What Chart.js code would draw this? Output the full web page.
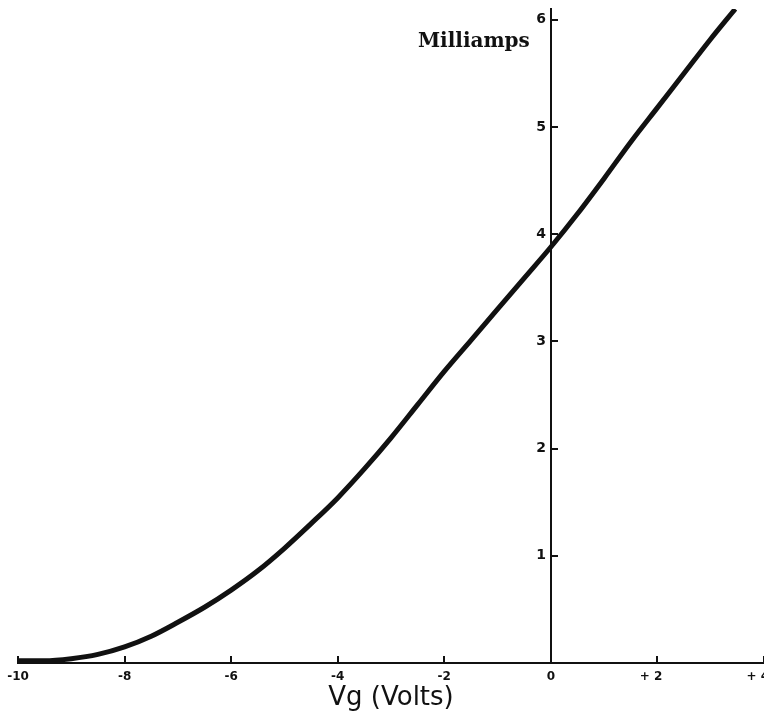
<!doctype html>
<html lang="en">
<head>
  <meta charset="utf-8">
  <title>Plate current vs grid voltage</title>
  <script src="https://cdn.jsdelivr.net/npm/chart.js@4"></script>
  <style>
    html, body { margin: 0; padding: 0; background: #fff; overflow: hidden; }
  </style>
<script>
// grid volts and plate current (mA)
var vg = [-10, -9.5, -9, -8.5, -8, -7.5, -7, -6.5, -6, -5.5, -5, -4.5, -4, -3.5,
          -3, -2.5, -2, -1.5, -1, -0.5, 0, 0.5, 1, 1.5, 2, 2.5, 3, 3.46];
var ma = [0.02, 0.02, 0.04, 0.08, 0.15, 0.25, 0.38, 0.52, 0.68, 0.86, 1.07, 1.30, 1.54, 1.81,
          2.10, 2.41, 2.72, 3.01, 3.30, 3.59, 3.88, 4.19, 4.52, 4.86, 5.18, 5.50, 5.82, 6.10];

var xTicks = [-10, -8, -6, -4, -2, 0, 2, 4];
var xTickLabels = ["-10", "-8", "-6", "-4", "-2", "0", "+ 2", "+ 4"];
var yTickLabels = ["", "1", "2", "3", "4", "5", "6"];

// y axis title sits flat beside the top of the axis
var milliampsLabel = {
  id: "milliamps",
  afterDraw: function(chart) {
    var c = chart.ctx;
    var x = chart.scales.x.getPixelForValue(0) - 21;
    var y = chart.scales.y.getPixelForValue(5.75);
    c.save();
    c.font = "bold 20px 'DejaVu Serif'";
    c.fillStyle = "#111";
    c.textAlign = "right";
    c.textBaseline = "alphabetic";
    c.fillText("Milliamps", x, y);
    c.restore();
  }
};
</script>
</head>
<body>
<canvas id="tube" width="764" height="720"></canvas>
<script>
  var points = [];
  for (var i = 0; i < vg.length; i++) {
    points.push({x: vg[i], y: ma[i]});
  }

  var ctx = document.getElementById("tube").getContext("2d");
  var myChart = new Chart(ctx, {
    type: "line",
    data: {
      datasets: [{
        data: points,
        borderColor: "#111",
        borderWidth: 5,
        pointRadius: 0,
        fill: false,
        cubicInterpolationMode: "monotone"
      }]
    },
    options: {
      responsive: false,
      animation: false,
      layout: { padding: { left: 18, right: -4, top: 9, bottom: 0 } },
      plugins: { legend: { display: false }, tooltip: { enabled: false } },
      scales: {
        x: {
          type: "linear",
          min: -10,
          max: 4,
          afterBuildTicks: function(scale) {
            scale.ticks = xTicks.map(function(v) { return {value: v}; });
          },
          afterFit: function(scale) {
            scale.height = 57;
            scale.paddingLeft = 0;
            scale.paddingRight = 0;
          },
          grid: { drawOnChartArea: false, drawTicks: true, tickLength: -7, color: "#111", lineWidth: 2 },
          border: { display: true, color: "#111", width: 2 },
          ticks: {
            padding: 14,
            maxRotation: 0,
            color: "#111",
            font: { family: "DejaVu Sans", size: 12, weight: "bold" },
            callback: function(v) {
              var s = xTickLabels[xTicks.indexOf(v)];
              // the positive labels sit a little left of their ticks
              return v > 0 ? s + "   " : s;
            }
          },
          title: {
            display: true,
            text: "Vg (Volts)",
            color: "#111",
            font: { family: "DejaVu Sans", size: 26 },
            padding: { top: 0, bottom: 6 }
          }
        },
        y: {
          type: "linear",
          position: { x: 0 },
          min: 0,
          max: 6.1,
          afterFit: function(scale) {
            scale.paddingTop = 0;
            scale.paddingBottom = 0;
          },
          grid: { drawOnChartArea: false, drawTicks: true, tickLength: -8, color: "#111", lineWidth: 2 },
          border: { display: true, color: "#111", width: 2 },
          ticks: {
            stepSize: 1,
            includeBounds: false,
            padding: 12,
            color: "#111",
            font: { family: "DejaVu Sans", size: 14, weight: "bold" },
            callback: function(v) { return yTickLabels[v] ? yTickLabels[v] + " " : ""; }
          }
        }
      }
    },
    plugins: [milliampsLabel]
  });
</script>
</body>
</html>
